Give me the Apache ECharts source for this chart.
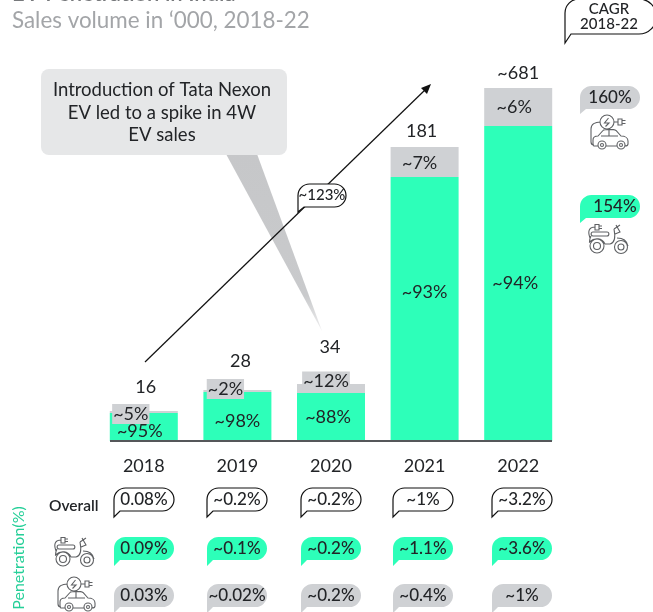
<!DOCTYPE html>
<html><head><meta charset="utf-8">
<style>html,body{margin:0;padding:0;background:#fff}#c{width:653px;height:612px}</style>
<script src="https://cdn.jsdelivr.net/npm/echarts@6/dist/echarts.min.js"></script>
</head><body><div id="c"></div>
<script>
// Values. The original bars are not to scale, so the bar arrays are drawn heights in axis units.
const years = ['2018','2019','2020','2021','2022'];
const greenBarHeights = [28,49,48,264,315];
const grayBarHeights = [2,2,9,30,38];
const totals = ['16','28','34','181','~681'];
const greenShares = ['~95%','~98%','~88%','~93%','~94%'];
const grayShares = ['~5%','~2%','~12%','~7%','~6%'];
const overallPenetration = ['0.08%','~0.2%','~0.2%','~1%','~3.2%'];
const twoWheelerPenetration = ['0.09%','~0.1%','~0.2%','~1.1%','~3.6%'];
const fourWheelerPenetration = ['0.03%','~0.02%','~0.2%','~0.4%','~1%'];
const cagrFourWheeler = '160%';
const cagrTwoWheeler = '154%';
const cagrOverall = '~123%';

// Layout and style
const FONT = 'Lato, "Noto Sans", sans-serif';
const INK = '#222427', GREEN = '#2dffb9', GRAY = '#cfd1d4', ICON = '#5f6164';
const greenOffsets = [[-4,4],[0,5],[-3,0],[0,-17],[-3,0]];
const grayOffsets = [[-13,2],[-12,-2],[-5,-7],[-5,1],[-4,0]];
const totalOffsets = [[2,-10],[3,-15],[-1,-23],[-3,-2],[0,-1]];
const bubbleX = [114,207,301,393,492];

function shapeFromPath(name,pathData){
  if(!echarts.graphic.getShapeClass(name)) echarts.graphic.registerShape(name,echarts.graphic.extendPath(pathData,{}));
  return name;
}
function bubblePath(w,h,t){
  const r=Math.min(h/2,14);
  return `M0 ${r} A${r} ${r} 0 0 1 ${r} 0 H${w-r} A${r} ${r} 0 0 1 ${w-r} ${h} H6 L0 ${h+t} Z`;
}
function bubble(x,y,w,h,t,fill,stroke,text,fs,tx){
  return {type:'group',x,y,z:30,children:[
    {type:shapeFromPath(`bubble_${w}_${h}_${t}`,bubblePath(w,h,t)),z:30,
     style:{fill,stroke:stroke||null,lineWidth:stroke?1.2:0}},
    {type:'text',z:31,x:tx==null?w/2:tx,y:h/2,style:{text,fill:INK,font:`500 ${fs||17}px ${FONT}`,align:'center',verticalAlign:'middle'}}
  ]};
}
const SCOOTER = 'M3 22 A7 7 0 1 0 17 22 A7 7 0 1 0 3 22 Z M6.5 22 A3.5 3.5 0 1 0 13.5 22 A3.5 3.5 0 1 0 6.5 22 Z '+
 'M27.5 23 A6.5 6.5 0 1 0 40.5 23 A6.5 6.5 0 1 0 27.5 23 Z M31 23 A3 3 0 1 0 37 23 A3 3 0 1 0 31 23 Z '+
 'M6 8 H20 C22.5 8 22.5 12 20 12 H6 C3.5 12 3.5 8 6 8 Z '+
 'M4 12 C3 14 2.5 16 2.5 18 C8 13 15 14 18 20 H23 C27 19 29 15 27 5 '+
 'M30 14 C36 14 40 17 41 22 M27 5 L33 1 M29 1 L33 8 L28 10 '+
 'M3 14 C0 6 3 3 8 3 M8 0.5 H12 V6 H8 Z M12 2 H15 M12 4.5 H15';
const CAR = 'M8 30 A4 4 0 1 0 16 30 A4 4 0 1 0 8 30 Z M10.5 30 A1.5 1.5 0 1 0 13.5 30 A1.5 1.5 0 1 0 10.5 30 Z '+
 'M27 30 A4 4 0 1 0 35 30 A4 4 0 1 0 27 30 Z M29.5 30 A1.5 1.5 0 1 0 32.5 30 A1.5 1.5 0 1 0 29.5 30 Z '+
 'M8 31 H4 C3 31 3 30 3 29 V25 C3 22 5 21 8 21 L13 15.5 C14 14 24 14 26 15.5 L31 21 C35 21 38 23 38 26 V29 C38 31 37 31 35 31 M27 31 H16 M11 21 H28 M19 21 V15 '+
 'M10 7 A7 7 0 1 0 24 7 A7 7 0 1 0 10 7 Z M18.5 3 L14.5 8 H19 L15.5 11.5 M24 7 H28 M28 4 H32 V10 H28 Z M32 5.5 H35.5 M32 8.5 H35.5 '+
 'M10.5 7 C5 7 1 9 1 14 V27 C1 29 2 30 4 30';
function icon(name,pathData,x,y){
  return {type:shapeFromPath(name,pathData),z:30,x,y,style:{fill:'none',stroke:ICON,lineWidth:1.1}};
}

const graphic = [
  // annotation callout
  {type:'polygon',z:5,shape:{points:[[226,154],[257,154],[322,331]]},
   style:{fill:{type:'linear',x:0,y:0,x2:0,y2:1,colorStops:[{offset:0,color:'#c6c7c9'},{offset:.8,color:'#c9cacc'},{offset:1,color:'#eeeeef'}]}}},
  {type:'rect',z:6,shape:{x:41,y:69,width:246,height:86,r:8},style:{fill:'#e6e7e8'}},
  {type:'text',z:7,x:162,y:113,style:{text:'Introduction of Tata Nexon\nEV led to a spike in 4W\nEV sales',fill:INK,font:`400 18.5px ${FONT}`,lineHeight:22.5,align:'center',verticalAlign:'middle'}},
  // growth arrow
  {type:'line',z:8,shape:{x1:145,y1:362,x2:427,y2:88},style:{stroke:'#111',lineWidth:1.2}},
  {type:'polygon',z:8,shape:{points:[[431,84],[421,88],[427,94]]},style:{fill:'#111'}},
  bubble(298,184,48,23,5,'#fff','#111',cagrOverall,15),
  // baseline
  {type:'line',z:20,shape:{x1:110,y1:441,x2:552,y2:441},style:{stroke:'#55575a',lineWidth:2}},
  // CAGR column
  bubble(565,-1,88,35,9,'#fff','#111','CAGR\n2018-22',15),
  bubble(580,86,60,23,5,GRAY,null,cagrFourWheeler,17,30),
  bubble(580,195,60,23,5,GREEN,null,cagrTwoWheeler,17,35),
  icon('car',CAR,590,115),
  icon('scooter',SCOOTER,587,224),
  // penetration table labels
  {type:'text',z:30,x:19,y:558,rotation:Math.PI/2,style:{text:'Penetration(%)',fill:'#25cf98',font:`400 16px ${FONT}`,align:'center',verticalAlign:'middle'}},
  {type:'text',z:30,x:49,y:506,style:{text:'Overall',fill:INK,font:`600 15.5px ${FONT}`,verticalAlign:'middle'}},
  icon('scooter',SCOOTER,53,537),
  icon('car',CAR,57,577),
];
years.forEach((_,i)=>{
  graphic.push(bubble(bubbleX[i],488,60,23,6,'#fff','#111',overallPenetration[i]));
  graphic.push(bubble(bubbleX[i],537,60,23,6,GREEN,null,twoWheelerPenetration[i]));
  graphic.push(bubble(bubbleX[i],584,60,23,6,GRAY,null,fourWheelerPenetration[i]));
});

const chart = echarts.init(document.getElementById('c'),null,{renderer:'canvas'});
chart.setOption({
  animation:false,
  backgroundColor:'#fff',
  title:{text:'EV Penetration in India',subtext:'Sales volume in \u2018000, 2018-22',left:12,top:-17,padding:0,itemGap:5,
    textStyle:{fontFamily:FONT,fontSize:22,fontWeight:600,color:'#77797c'},
    subtextStyle:{fontFamily:FONT,fontSize:22.4,fontWeight:400,color:'#a3a5a8'}},
  grid:{left:97,right:88,top:41,height:400},
  xAxis:{type:'category',data:years,axisLine:{show:false},axisTick:{show:false},
    axisLabel:{color:INK,fontFamily:FONT,fontSize:18,margin:16}},
  yAxis:{type:'value',min:0,max:400,show:false},
  series:[
    {name:'2W',type:'bar',stack:'s',barWidth:68,itemStyle:{color:GREEN},
     data:greenBarHeights.map((v,i)=>({value:v,label:{show:true,position:'inside',offset:greenOffsets[i],formatter:greenShares[i],color:INK,fontFamily:FONT,fontSize:18}}))},
    {name:'4W',type:'bar',stack:'s',barWidth:68,itemStyle:{color:GRAY},
     data:grayBarHeights.map((v,i)=>({value:v,label:{show:true,position:'inside',offset:grayOffsets[i],formatter:grayShares[i],color:INK,fontFamily:FONT,fontSize:18,
       backgroundColor:i<3?GRAY:'transparent',padding:[1,1]}}))},
    {name:'Total',type:'bar',stack:'s',barWidth:68,itemStyle:{color:'transparent'},
     data:totals.map((t,i)=>({value:0,label:{show:true,position:'top',offset:totalOffsets[i],formatter:t,color:INK,fontFamily:FONT,fontSize:18}}))}
  ],
  graphic
});
</script></body></html>
